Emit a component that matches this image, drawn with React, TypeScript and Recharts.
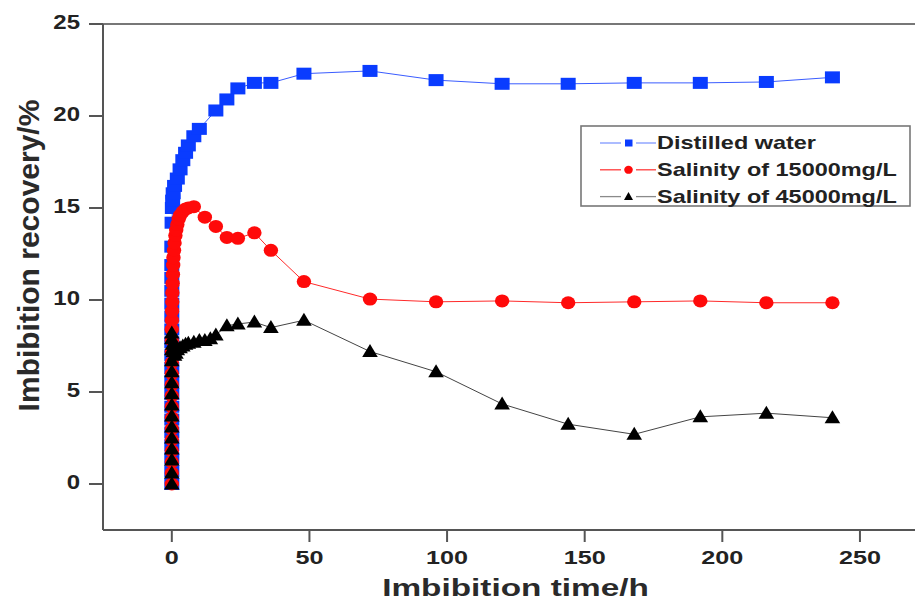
import React from 'react';
import { LineChart, Line, XAxis, YAxis, ReferenceLine } from 'recharts';

const xTicks = [0, 50, 100, 150, 200, 250];
const yTicks = [0, 5, 10, 15, 20, 25];

const seriesNames = ['Distilled water', 'Salinity of 15000mg/L', 'Salinity of 45000mg/L'];

const waterTime = [0, 0, 0, 0, 0, 0, 0, 0, 0, 0, 0, 0, 0, 0, 0, 0, 0, 0, 0,
  0.1, 0.2, 0.3, 0.5, 1, 2, 3, 4, 5, 6, 8, 10, 16, 20, 24, 30, 36, 48, 72, 96, 120, 144, 168, 192, 216, 240];
const waterValue = [0, 0.7, 1.4, 2.1, 2.8, 3.5, 4.2, 4.9, 5.6, 6.3, 7.0, 7.7, 8.4, 9.1, 9.8, 10.5, 11.2, 11.9, 12.9,
  14.2, 15.0, 15.4, 15.8, 16.2, 16.6, 17.1, 17.6, 18.0, 18.4, 18.9, 19.3, 20.3, 20.9, 21.5, 21.8, 21.8, 22.3, 22.45, 21.95, 21.75, 21.75, 21.8, 21.8, 21.85, 22.1];

const salt15Time = [0, 0, 0, 0, 0, 0, 0, 0, 0, 0, 0, 0, 0, 0, 0,
  0.05, 0.1, 0.15, 0.2, 0.3, 0.4, 0.5, 0.6, 0.8, 1, 1.3, 1.6, 2, 2.5, 3, 4, 5, 6, 8,
  12, 16, 20, 24, 30, 36, 48, 72, 96, 120, 144, 168, 192, 216, 240];
const salt15Value = [0, 0.6, 1.2, 1.8, 2.4, 3.0, 3.6, 4.2, 4.8, 5.4, 6.0, 6.6, 7.2, 7.8, 8.4,
  8.9, 9.4, 9.9, 10.4, 10.9, 11.4, 11.9, 12.3, 12.7, 13.1, 13.5, 13.8, 14.1, 14.4, 14.6, 14.8, 14.95, 15.0, 15.07,
  14.5, 14.0, 13.4, 13.35, 13.65, 12.7, 11.0, 10.05, 9.9, 9.95, 9.85, 9.9, 9.95, 9.85, 9.85];

const salt45Time = [0, 0, 0, 0, 0, 0, 0, 0, 0, 0, 0, 0, 0, 0, 0,
  0.3, 0.6, 1, 1.5, 2, 3, 4, 5, 6, 8, 10, 12, 14, 16, 20, 24, 30, 36, 48, 72, 96, 120, 144, 168, 192, 216, 240];
const salt45Value = [0, 0.6, 1.3, 1.9, 2.5, 3.1, 3.7, 4.3, 4.9, 5.5, 6.1, 6.7, 7.3, 7.9, 8.2,
  7.6, 7.2, 7.0, 7.1, 7.3, 7.4, 7.5, 7.6, 7.65, 7.7, 7.8, 7.8, 7.9, 8.1, 8.6, 8.7, 8.8, 8.5, 8.9, 7.2, 6.1, 4.35, 3.25, 2.7, 3.65, 3.85, 3.6];

const build = (ts: number[], vs: number[]) => ts.map((t, i) => ({ t, v: vs[i] }));
const waterData = build(waterTime, waterValue);
const salt15Data = build(salt15Time, salt15Value);
const salt45Data = build(salt45Time, salt45Value);

const FONT = '"Liberation Sans", Arial, Helvetica, sans-serif';
const BLUE = '#0a3cff';
const RED = '#ff0a0a';
const BLACK = '#000000';

const squareDot = (p: any) => {
  const { cx, cy, index } = p;
  if (cx == null || cy == null) return <g key={`s${index}`} />;
  return <rect key={`s${index}`} x={cx - 7.5} y={cy - 6} width={15} height={12} fill={BLUE} />;
};
const circleDot = (p: any) => {
  const { cx, cy, index } = p;
  if (cx == null || cy == null) return <g key={`c${index}`} />;
  return <ellipse key={`c${index}`} cx={cx} cy={cy} rx={7.2} ry={6.5} fill={RED} />;
};
const triDot = (p: any) => {
  const { cx, cy, index } = p;
  if (cx == null || cy == null) return <g key={`t${index}`} />;
  return (
    <polygon
      key={`t${index}`}
      points={`${cx},${cy - 7.5} ${cx + 7.8},${cy + 5.5} ${cx - 7.8},${cy + 5.5}`}
      fill={BLACK}
    />
  );
};

const XTick = (p: any) => {
  const { x, y, payload } = p;
  return (
    <g transform={`translate(${x},${y})`}>
      <text transform="scale(1.4,1)" textAnchor="middle" dy="0.72em" fontSize={18} fontWeight="bold" fill="#222" fontFamily={FONT}>
        {payload.value}
      </text>
    </g>
  );
};
const YTick = (p: any) => {
  const { x, y, payload } = p;
  return (
    <g transform={`translate(${x},${y})`}>
      <text transform="scale(1.2,1)" textAnchor="end" dy="0.27em" fontSize={20} fontWeight="bold" fill="#222" fontFamily={FONT}>
        {payload.value}
      </text>
    </g>
  );
};

const legendRows = [
  { name: seriesNames[0], line: '#7f98ff', kind: 'square' },
  { name: seriesNames[1], line: '#ff3b3b', kind: 'circle' },
  { name: seriesNames[2], line: '#8a8a8a', kind: 'tri' },
];

const LegendOverlay = () => (
  <svg width={915} height={602} style={{ position: 'absolute', left: 0, top: 0, pointerEvents: 'none' }}>
    <rect x={581} y={126} width={329} height={80} fill="#fff" stroke="#777" strokeWidth={1.6} />
    {legendRows.map((r, i) => {
      const cy = 143 + i * 26.8;
      return (
        <g key={r.name}>
          <line x1={600} x2={621} y1={cy} y2={cy} stroke={r.line} strokeWidth={1.3} />
          <line x1={636} x2={656} y1={cy} y2={cy} stroke={r.line} strokeWidth={1.3} />
          {r.kind === 'square' && <rect x={625} y={cy - 3.5} width={7.5} height={7} fill={BLUE} />}
          {r.kind === 'circle' && <ellipse cx={628.5} cy={cy} rx={4.3} ry={4} fill={RED} />}
          {r.kind === 'tri' && <polygon points={`${628.5},${cy - 4.5} ${633},${cy + 3.5} ${624},${cy + 3.5}`} fill={BLACK} />}
          <text transform={`translate(657,${cy + 6.3}) scale(1.34,1)`} fontSize={17.5} fontWeight="bold" fill="#222" fontFamily={FONT}>
            {r.name}
          </text>
        </g>
      );
    })}
  </svg>
);

export default function App() {
  return (
    <div style={{ position: 'absolute', left: 0, top: 0, width: 915, height: 602, background: '#fff' }}>
      <LineChart width={915} height={602} margin={{ top: 24, right: 0, bottom: 0, left: 0 }}>
        <XAxis
          dataKey="t"
          type="number"
          domain={[-25, 270]}
          ticks={xTicks}
          height={72}
          tickSize={12}
          tickMargin={9}
          tick={XTick}
          axisLine={{ stroke: '#555', strokeWidth: 2 }}
          tickLine={{ stroke: '#555', strokeWidth: 2 }}
          allowDuplicatedCategory={false}
          label={{
            content: () => (
              <text transform="translate(515.5,596) scale(1.45,1)" textAnchor="middle" fontSize={23} fontWeight="bold" fill="#2a2a2a" fontFamily={FONT}>
                Imbibition time/h
              </text>
            ),
          }}
        />
        <YAxis
          type="number"
          domain={[-2.5, 25]}
          ticks={yTicks}
          width={103}
          tickSize={14}
          tickMargin={9}
          tick={YTick}
          axisLine={{ stroke: '#555', strokeWidth: 2 }}
          tickLine={{ stroke: '#555', strokeWidth: 2 }}
          label={{
            content: () => (
              <text transform="translate(39,255.5) rotate(-90)" textAnchor="middle" fontSize={30} fontWeight="bold" fill="#2a2a2a" fontFamily={FONT}>
                Imbibition recovery/%
              </text>
            ),
          }}
        />
        <ReferenceLine y={25} stroke="#777" strokeWidth={2} ifOverflow="visible" />
        <Line data={waterData} dataKey="v" name={seriesNames[0]} type="linear" stroke="#3a5cff" strokeWidth={1} dot={squareDot} activeDot={false} isAnimationActive={false} />
        <Line data={salt15Data} dataKey="v" name={seriesNames[1]} type="linear" stroke="#ff2a2a" strokeWidth={1} dot={circleDot} activeDot={false} isAnimationActive={false} />
        <Line data={salt45Data} dataKey="v" name={seriesNames[2]} type="linear" stroke="#444" strokeWidth={1} dot={triDot} activeDot={false} isAnimationActive={false} />
      </LineChart>
      <LegendOverlay />
    </div>
  );
}
